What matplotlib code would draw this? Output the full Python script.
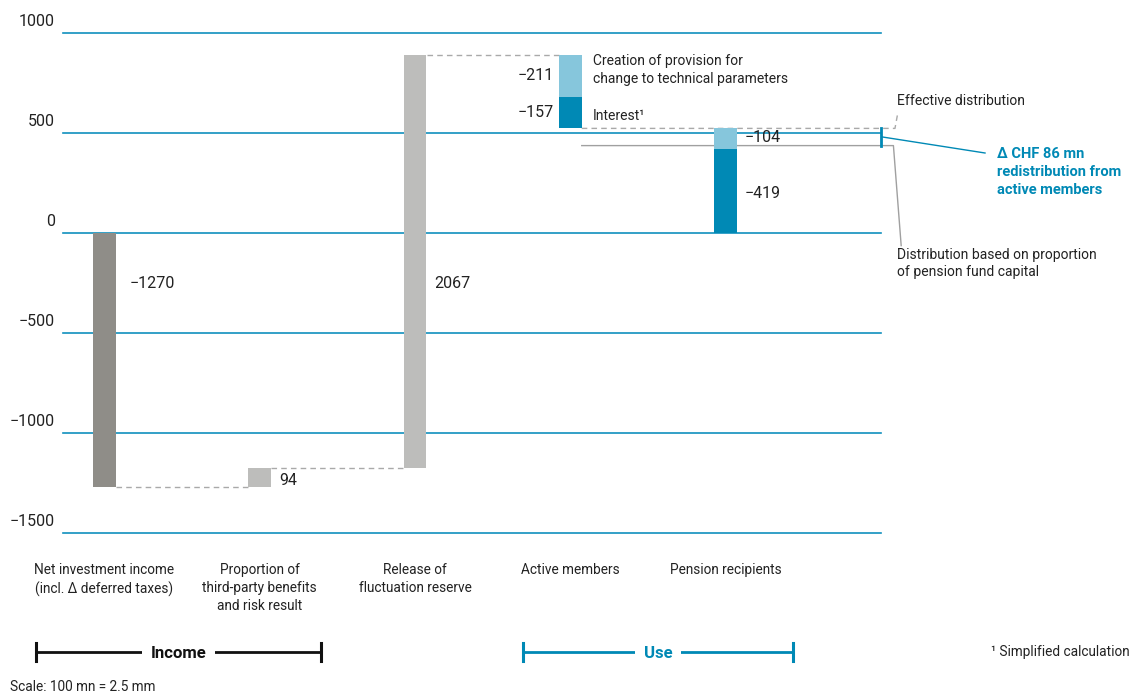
import matplotlib
matplotlib.use('Agg')
import matplotlib.pyplot as plt
import matplotlib.transforms as mtransforms
from matplotlib.lines import Line2D

plt.rcParams['font.family'] = ['Roboto', 'DejaVu Sans']

# ---- data ----
categories = ['Net investment income\n(incl. \u0394 deferred taxes)',
              'Proportion of\nthird-party benefits\nand risk result',
              'Release of\nfluctuation reserve',
              'Active members',
              'Pension recipients']
income_values = [-1270, 94, 2067]
active_values = [-211, -157]        # provision, interest
pension_values = [-104, -419]       # redistribution part, proportional part
redistribution = 86
y_ticks = [1000, 500, 0, -500, -1000, -1500]

DARK_GREY = '#8f8d88'
LIGHT_GREY = '#bdbdbb'
LIGHT_BLUE = '#86c6dc'
DARK_BLUE = '#0089b5'
GRID_BLUE = '#1190bd'
DASH_GREY = '#a9a9a9'
TXT = '#222222'

fig = plt.figure(figsize=(11.4, 6.95), dpi=100)
W, H = 1140, 695
ax = fig.add_axes([63 / W, (H - 533) / H, (881 - 63) / W, 500 / H])

step = 155.25
ax.set_xlim((63 - 104.5) / step, (881 - 104.5) / step)
ax.set_ylim(-1500, 1000)
bw = 23 / step


def fmt(v):
    return '\u2212' + str(abs(v)) if v < 0 else str(v)


for s in ax.spines.values():
    s.set_visible(False)
ax.set_xticks([])
ax.set_yticks(y_ticks)
ax.set_yticklabels([fmt(v) for v in y_ticks])
ax.tick_params(axis='y', length=0, pad=6, labelsize=11.5, labelcolor=TXT)
offset = mtransforms.ScaledTranslation(0, 3 / 72, fig.dpi_scale_trans)
for lbl in ax.get_yticklabels():
    lbl.set_va('bottom')
    lbl.set_transform(lbl.get_transform() + offset)
for v in y_ticks:
    ax.axhline(v, color=GRID_BLUE, lw=1.2, zorder=1, clip_on=False)

# ---- income bars ----
level = 0
tops = []
colors = [DARK_GREY, LIGHT_GREY, LIGHT_GREY]
for i, v in enumerate(income_values):
    ax.bar(i, v, bottom=level, width=bw, color=colors[i], zorder=3)
    tops.append((level, level + v))
    level += v

# dashed connectors between bars
dash = dict(ls=(0, (4, 3)), color=DASH_GREY, lw=1, zorder=2)
for i in range(3):
    ax.plot([i + bw / 2, i + 1 - bw / 2], [tops[i][1]] * 2, **dash)

# value labels income
ax.text(0 + bw / 2 + 0.09, -250, fmt(income_values[0]), fontsize=11.5, va='center', ha='left', color=TXT)
ax.text(1 + bw / 2 + 0.05, (tops[1][0] + tops[1][1]) / 2 - 15, fmt(income_values[1]), fontsize=11.5,
        va='center', ha='left', color=TXT)
ax.text(2 + bw / 2 + 0.05, -250, fmt(income_values[2]), fontsize=11.5, va='center', ha='left', color=TXT)

# ---- active members ----
a_colors = [LIGHT_BLUE, DARK_BLUE]
for j, v in enumerate(active_values):
    ax.bar(3, v, bottom=level, width=bw, color=a_colors[j], zorder=3)
    ax.text(3 - bw / 2 - 0.03, level + v / 2, fmt(v), fontsize=11.5, va='center', ha='right', color=TXT)
    level += v
effective = level
ax.text(3 + bw / 2 + 0.07, tops[2][1] + 2,
        'Creation of provision for\nchange to technical parameters', fontsize=10, va='top', ha='left',
        linespacing=1.3, color=TXT)
ax.text(3 + bw / 2 + 0.07, effective - active_values[1] / 2 - 15, 'Interest\u00b9', fontsize=10,
        va='center', ha='left', color=TXT)

# ---- pension recipients ----
for j, v in enumerate(pension_values):
    ax.bar(4, v, bottom=level, width=bw, color=a_colors[j], zorder=3)
    level += v
ax.text(4 + bw / 2 + 0.05, effective + pension_values[0] / 2 + 5, fmt(pension_values[0]),
        fontsize=11.5, va='center', ha='left', zorder=4, color=TXT)
ax.text(4 + bw / 2 + 0.05, -pension_values[1] / 2 - 10, fmt(pension_values[1]),
        fontsize=11.5, va='center', ha='left', color=TXT)

proportional = effective - redistribution
x_end = ax.get_xlim()[1]
# effective distribution dashed line
ax.plot([3 + bw / 2, x_end + 0.09, x_end + 0.11], [effective, effective, effective + 85],
        clip_on=False, **dash)
ax.text(x_end + 0.1, effective + 135, 'Effective distribution', fontsize=10, va='center', ha='left',
        color=TXT)
# proportional distribution solid line
ax.plot([3 + bw / 2, x_end + 0.08, x_end + 0.13], [proportional, proportional, proportional - 500],
        color='#a0a0a0', lw=1, zorder=2, clip_on=False)
ax.text(x_end + 0.1, proportional - 510, 'Distribution based on proportion\nof pension fund capital',
        fontsize=10, va='top', ha='left', linespacing=1.3, color=TXT)
# redistribution marker
ax.plot([x_end, x_end], [effective, proportional], color=DARK_BLUE, lw=2, zorder=4, clip_on=False)
ax.plot([x_end + 0.01, x_end + 0.67], [(effective + proportional) / 2, 400], color=DARK_BLUE, lw=1,
        clip_on=False)
ax.text(x_end + 0.745, 430, '\u0394 CHF %d mn\nredistribution from\nactive members' % redistribution,
        fontsize=10.5, fontweight='bold', color=DARK_BLUE, va='top', ha='left', linespacing=1.35)

# ---- category labels ----
blend = mtransforms.blended_transform_factory(ax.transData, fig.transFigure)
for i, c in enumerate(categories):
    ax.text(i, 1 - 563 / H, c, transform=blend, ha='center', va='top', fontsize=9.8,
            linespacing=1.35, clip_on=False, color=TXT)


# ---- brackets ----
def bracket(x0, x1, y, label, color):
    yy = 1 - y / H
    fig.add_artist(Line2D([x0 / W, x1 / W], [yy, yy], color=color, lw=2))
    for x in (x0, x1):
        fig.add_artist(Line2D([x / W, x / W], [yy - 9 / H, yy + 9 / H], color=color, lw=2.2))
    fig.text((x0 + x1) / 2 / W, yy - 1.5 / H, label, ha='center', va='center', fontsize=12,
             fontweight='bold', color=color,
             bbox=dict(facecolor='white', edgecolor='none', pad=6))


bracket(36, 321, 652, 'Income', '#111111')
bracket(523, 793, 652, 'Use', DARK_BLUE)

fig.text(1130 / W, 1 - 652 / H, '\u00b9 Simplified calculation', fontsize=9.8, va='center', ha='right',
         color=TXT)
fig.text(10 / W, 1 - 687 / H, 'Scale: 100 mn = 2.5 mm', fontsize=9.8, va='center', ha='left', color=TXT)

fig.savefig('out.png', dpi=100)
